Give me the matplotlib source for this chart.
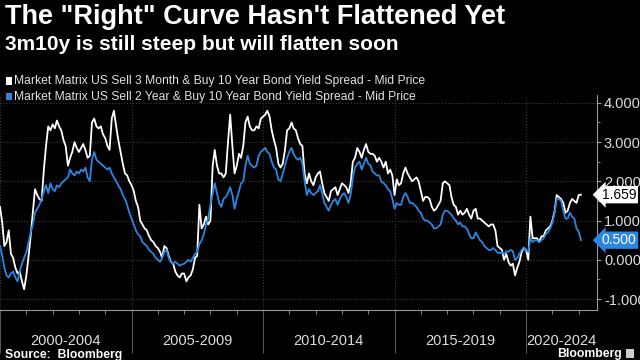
import numpy as np
import pandas as pd
import matplotlib.pyplot as plt
import matplotlib.dates as mdates
from matplotlib.patches import Rectangle
from matplotlib.transforms import blended_transform_factory
from matplotlib import font_manager

# monthly readings, Jan 2000 .. Feb 2022
dates = pd.date_range('2000-01-01', '2022-02-01', freq='MS')

spread_3m10y = (
    [1.35, 0.95, 0.35, 0.45, 0.75, 0.15, 0.05, -0.20, -0.35, -0.30, -0.55, -0.75] +
    [-0.40, 0.10, 0.60, 1.20, 1.80, 1.65, 1.55, 1.50, 2.30, 2.90, 3.40, 3.30] +
    [3.45, 3.35, 3.55, 3.40, 3.30, 3.05, 2.90, 2.40, 2.60, 2.75, 3.00, 2.85] +
    [2.75, 2.85, 2.95, 2.80, 2.60, 2.65, 3.50, 3.60, 3.40, 3.35, 3.40, 3.20] +
    [3.10, 2.90, 2.80, 3.60, 3.80, 3.40, 3.05, 2.75, 2.45, 2.20, 2.15, 2.00] +
    [1.90, 1.75, 1.50, 1.35, 1.00, 0.90, 0.80, 0.75, 0.60, 0.50, 0.45, 0.35] +
    [0.30, 0.20, 0.05, 0.35, 0.30, 0.10, -0.05, -0.10, -0.30, -0.40, -0.45, -0.35] +
    [-0.35, -0.55, -0.45, -0.40, -0.25, 0.05, 0.10, 1.40, 0.80, 0.90, 1.10, 0.90] +
    [1.00, 2.40, 2.80, 2.40, 2.20, 2.20, 2.10, 2.20, 3.00, 3.70, 2.90, 2.20] +
    [2.40, 2.70, 2.60, 2.90, 3.50, 3.65, 3.40, 3.30, 3.30, 3.40, 3.35, 3.60] +
    [3.65, 3.70, 3.80, 3.65, 3.30, 3.05, 2.85, 2.45, 2.35, 2.45, 2.80, 3.30] +
    [3.35, 3.50, 3.35, 3.30, 3.10, 2.95, 2.90, 2.20, 1.95, 2.20, 2.00, 1.90] +
    [2.10, 2.20, 2.25, 1.95, 1.70, 1.60, 1.50, 1.75, 1.80, 1.85, 1.65, 1.80] +
    [1.95, 1.90, 1.85, 1.70, 1.95, 2.50, 2.60, 2.85, 2.75, 2.60, 2.80, 2.95] +
    [2.75, 2.70, 2.70, 2.65, 2.50, 2.60, 2.50, 2.35, 2.50, 2.20, 2.30, 2.15] +
    [1.65, 2.05, 1.90, 1.95, 2.20, 2.35, 2.20, 2.10, 2.00, 2.05, 2.10, 2.00] +
    [1.75, 1.50, 1.60, 1.60, 1.55, 1.35, 1.25, 1.30, 1.40, 1.50, 1.95, 2.00] +
    [1.95, 1.90, 1.60, 1.40, 1.35, 1.15, 1.25, 1.15, 1.20, 1.30, 1.15, 1.05] +
    [1.25, 1.30, 1.05, 1.05, 1.00, 0.95, 0.90, 0.85, 0.90, 0.90, 0.75, 0.35] +
    [0.30, 0.25, 0.00, 0.15, -0.05, -0.15, -0.10, -0.40, -0.20, -0.05, 0.20, 0.30] +
    [0.25, 0.00, 1.10, 0.55, 0.55, 0.55, 0.45, 0.60, 0.60, 0.75, 0.80, 0.85] +
    [1.00, 1.25, 1.65, 1.60, 1.55, 1.45, 1.20, 1.25, 1.45, 1.55, 1.50, 1.45] +
    [1.65, 1.66]
)

spread_2s10s = (
    [0.35, 0.10, -0.20, -0.40, -0.45, -0.35, -0.30, -0.45, -0.55, -0.30, -0.10, 0.05] +
    [0.20, 0.45, 0.70, 0.90, 1.20, 1.30, 1.40, 1.55, 1.75, 1.90, 1.70, 1.95] +
    [1.80, 1.75, 1.90, 1.85, 1.95, 2.00, 2.05, 2.10, 2.30, 2.20, 2.15, 2.25] +
    [2.20, 2.30, 2.25, 2.35, 2.10, 2.00, 2.55, 2.75, 2.55, 2.50, 2.45, 2.40] +
    [2.35, 2.30, 2.35, 2.20, 2.10, 2.00, 1.90, 1.80, 1.65, 1.55, 1.40, 1.20] +
    [1.05, 0.90, 0.75, 0.65, 0.60, 0.45, 0.40, 0.35, 0.25, 0.20, 0.15, 0.05] +
    [0.00, -0.05, 0.05, 0.20, 0.25, 0.05, -0.05, -0.10, -0.05, -0.10, -0.15, -0.12] +
    [-0.10, -0.05, 0.00, -0.05, 0.05, 0.15, 0.20, 0.40, 0.50, 0.65, 0.90, 1.05] +
    [1.40, 1.70, 1.95, 1.70, 1.45, 1.35, 1.55, 1.60, 1.70, 1.85, 1.65, 1.30] +
    [1.55, 1.75, 1.95, 2.00, 2.40, 2.65, 2.45, 2.40, 2.35, 2.40, 2.65, 2.75] +
    [2.80, 2.85, 2.75, 2.70, 2.50, 2.35, 2.30, 2.05, 2.00, 2.20, 2.40, 2.60] +
    [2.75, 2.85, 2.70, 2.60, 2.55, 2.60, 2.45, 2.00, 1.65, 1.80, 1.70, 1.65] +
    [1.70, 1.75, 1.90, 1.70, 1.45, 1.35, 1.25, 1.40, 1.50, 1.55, 1.40, 1.55] +
    [1.65, 1.70, 1.60, 1.45, 1.65, 2.10, 2.35, 2.45, 2.50, 2.30, 2.45, 2.60] +
    [2.45, 2.40, 2.25, 2.20, 2.15, 2.15, 2.00, 1.95, 1.90, 1.80, 1.75, 1.55] +
    [1.30, 1.45, 1.40, 1.40, 1.60, 1.70, 1.60, 1.45, 1.45, 1.40, 1.35, 1.25] +
    [1.20, 1.05, 1.00, 1.00, 0.95, 0.90, 0.80, 0.80, 0.85, 0.90, 1.15, 1.25] +
    [1.25, 1.20, 1.15, 1.05, 1.00, 0.90, 0.95, 0.85, 0.85, 0.80, 0.65, 0.55] +
    [0.55, 0.70, 0.60, 0.50, 0.45, 0.35, 0.30, 0.25, 0.25, 0.30, 0.25, 0.18] +
    [0.17, 0.20, 0.15, 0.22, 0.20, 0.25, 0.22, 0.00, 0.05, 0.15, 0.25, 0.32] +
    [0.25, 0.20, 0.55, 0.45, 0.50, 0.50, 0.45, 0.50, 0.55, 0.65, 0.70, 0.80] +
    [0.95, 1.20, 1.55, 1.55, 1.50, 1.25, 1.05, 1.05, 1.20, 1.10, 1.05, 0.80] +
    [0.72, 0.50]
)

last_3m10y = 1.659
last_2s10s = 0.500

periods = ['2000-2004', '2005-2009', '2010-2014', '2015-2019', '2020-2024']
period_starts = ['2000-01-01', '2005-01-01', '2010-01-01', '2015-01-01', '2020-01-01']
y_ticks = [-1, 0, 1, 2, 3, 4]

names = {f.name for f in font_manager.fontManager.ttflist}
narrow = 'Liberation Sans Narrow' if 'Liberation Sans Narrow' in names else 'Liberation Sans'

BLUE = '#2a86e2'
GRID = '#3c3c3c'
AXC = '#9a9a9a'

fig = plt.figure(figsize=(6.4, 3.6), dpi=100, facecolor='black')
ax = fig.add_axes([0.0, 1 - 310 / 360, 597 / 640, (310 - 95) / 360])
ax.set_facecolor('black')

ax.plot(dates, spread_3m10y, color='white', lw=1.3, zorder=3)
ax.plot(dates, spread_2s10s, color=BLUE, lw=1.3, zorder=4)

x0 = pd.Timestamp('2000-01-01')
x1 = pd.Timestamp('2022-09-12')
ax.set_xlim(x0, x1)
ax.set_ylim(-1.28, 4.2)

# axes styling
for s in ['top', 'left']:
    ax.spines[s].set_visible(False)
ax.spines['bottom'].set_color(AXC)
ax.spines['right'].set_color(AXC)

ax.yaxis.tick_right()
ax.set_yticks(y_ticks)
ax.set_yticks(np.arange(-1, 4.5, 0.5), minor=True)
ax.set_yticklabels(['%.3f' % v for v in y_ticks])
ax.tick_params(axis='y', which='major', colors=AXC, labelcolor='#dddddd',
               length=3, pad=2, labelsize=10.5)
ax.tick_params(axis='y', which='minor', colors=AXC, length=2)
for lab in ax.get_yticklabels():
    lab.set_fontfamily(narrow)

ax.xaxis.set_major_locator(mdates.YearLocator(5))
ax.xaxis.set_minor_locator(mdates.YearLocator(1))
ax.set_xticklabels([])
ax.tick_params(axis='x', which='major', colors='#555555', length=31, width=0.8)
ax.tick_params(axis='x', which='minor', colors=AXC, length=3)

ax.grid(True, axis='both', which='major', color=GRID, ls=':', lw=0.8)

# period labels, clipped at the right axis like the original
tr = blended_transform_factory(ax.transData, fig.transFigure)
clip = Rectangle((0, 0), 597 / 640, 1, transform=fig.transFigure)
for lab, st in zip(periods, period_starts):
    a = pd.Timestamp(st)
    b = a + pd.DateOffset(years=5)
    c = a + (min(b, x1) - a) / 2
    t = ax.text(c, 1 - 341 / 360, lab, transform=tr, ha='center', va='center',
                color='#dddddd', fontsize=10.5, family=narrow)
    t.set_clip_path(clip)

# last-value tags
ty = blended_transform_factory(ax.transAxes, ax.transData)
ax.text(1.008, last_3m10y, '%.3f' % last_3m10y, transform=ty, ha='left', va='center',
        color='black', fontsize=10, family=narrow, zorder=10, clip_on=False,
        bbox=dict(boxstyle='larrow,pad=0.12', fc='white', ec='none'))
ax.text(1.008, last_2s10s, '%.3f' % last_2s10s, transform=ty, ha='left', va='center',
        color='white', fontsize=10, family=narrow, zorder=10, clip_on=False,
        bbox=dict(boxstyle='larrow,pad=0.12', fc=BLUE, ec='none'))

# titles and legend
fig.text(5 / 640, 1 - 17 / 360, 'The "Right" Curve Hasn\'t Flattened Yet', color='white',
         fontsize=19.5, fontweight='bold', family=narrow, va='center', ha='left')
fig.text(5 / 640, 1 - 45 / 360, '3m10y is still steep but will flatten soon', color='white',
         fontsize=15, fontweight='bold', family=narrow, va='center', ha='left')

legend_labels = ['Market Matrix US Sell 3 Month & Buy 10 Year Bond Yield Spread - Mid Price',
                 'Market Matrix US Sell 2 Year & Buy 10 Year Bond Yield Spread - Mid Price']
legend_colors = ['white', BLUE]
for i, (lab, col) in enumerate(zip(legend_labels, legend_colors)):
    yy = 1 - (81 + 16 * i) / 360
    fig.patches.append(Rectangle((6 / 640, yy - 3.5 / 360), 6 / 640, 7 / 360,
                                 transform=fig.transFigure, fc=col, ec='none'))
    fig.text(14 / 640, yy, lab, color='#e0e0e0', fontsize=8.7, family=narrow,
             va='center', ha='left')

fig.text(5 / 640, 1 - 355 / 360, 'Source:  Bloomberg', color='white', fontsize=8.8,
         fontweight='bold', family=narrow, va='center', ha='left')
fig.text(622 / 640, 1 - 354 / 360, 'Bloomberg', color='white', fontsize=8.8,
         fontweight='bold', family=narrow, va='center', ha='right')
fig.patches.append(Rectangle((626 / 640, 1 - 358 / 360), 8 / 640, 9 / 360,
                             transform=fig.transFigure, fc='#cccccc', ec='none'))

fig.savefig('out.png', dpi=100, facecolor='black')
